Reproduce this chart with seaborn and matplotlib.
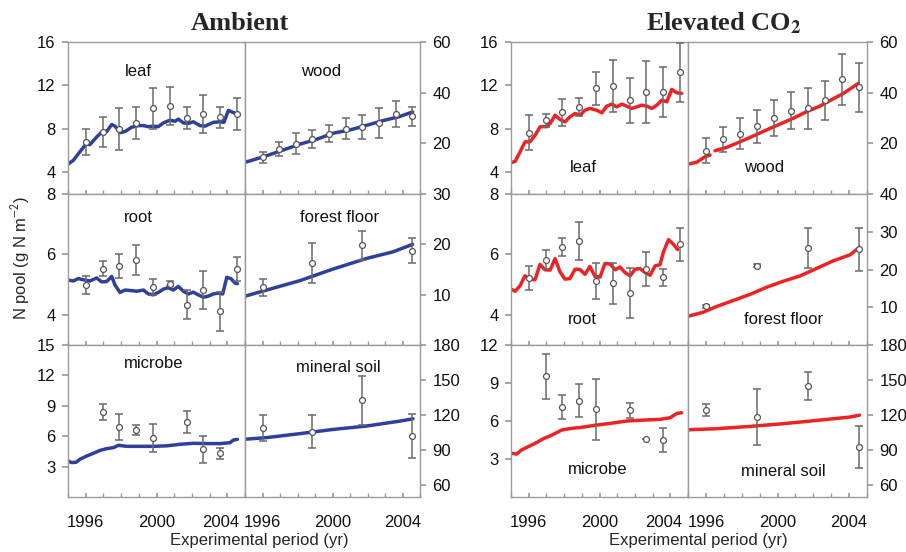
import matplotlib
matplotlib.use("Agg")
import matplotlib.pyplot as plt
import matplotlib.transforms as mtransforms
import numpy as np
import seaborn as sns

# observation dates (growing-season sampling), shared by all panels
obs_years = [1996.0, 1996.95, 1997.9, 1998.85, 1999.8, 2000.75, 2001.7, 2002.65, 2003.6, 2004.55]
idx_micro = [1, 2, 3, 4, 6, 7, 8]
idx_soil = [0, 3, 6, 9]

# ---------------- Ambient ----------------
amb_leaf_t = [1995.0, 1995.3, 1995.68, 1996.02, 1996.24, 1996.62, 1996.9, 1997.18, 1997.47, 1997.66,
              1997.94, 1998.22, 1998.6, 1998.97, 1999.26, 1999.54, 1999.82, 2000.1, 2000.39, 2000.76,
              2001.05, 2001.23, 2001.52, 2001.8, 2002.08, 2002.46, 2002.74, 2003.21, 2003.59, 2003.81,
              2004.06, 2004.28, 2004.6]
amb_leaf_v = [4.75, 5.1, 5.9, 6.6, 6.55, 7.25, 7.7, 7.75, 8.4, 8.25,
              7.65, 7.75, 8.15, 8.3, 8.3, 8.2, 8.25, 8.2, 8.55, 8.8,
              8.7, 8.9, 8.55, 8.5, 8.65, 8.3, 8.25, 8.6, 8.65, 8.6,
              9.7, 9.55, 9.3]
amb_leaf_obs = [6.8, 7.7, 8.0, 8.55, 9.9, 10.1, 9.0, 9.4, 9.05, 9.35]
amb_leaf_err = [1.2, 1.4, 1.95, 1.5, 1.9, 1.75, 1.05, 1.75, 1.0, 1.45]

amb_wood_t = [1995.0, 1996.06, 1997.2, 1998.15, 1999.1, 2000.04, 2001.0, 2001.95, 2002.9, 2003.8, 2004.58]
amb_wood_v = [12.5, 14.7, 17.4, 19.7, 21.6, 24.0, 25.3, 27.1, 29.0, 30.5, 32.4]
amb_wood_obs = [14.5, 17.8, 19.9, 21.6, 23.8, 25.8, 26.4, 28.1, 31.6, 30.7]
amb_wood_err = [2.2, 2.8, 4.0, 3.6, 3.3, 4.2, 4.8, 6.0, 5.2, 3.7]

amb_root_t = [1995.0, 1995.3, 1995.58, 1995.86, 1996.24, 1996.62, 1996.9, 1997.18, 1997.47, 1997.66,
              1997.94, 1998.22, 1998.6, 1998.88, 1999.26, 1999.54, 1999.82, 2000.1, 2000.39, 2000.67,
              2000.95, 2001.23, 2001.52, 2001.8, 2002.08, 2002.36, 2002.65, 2002.93, 2003.21, 2003.5,
              2003.74, 2003.97, 2004.2, 2004.44, 2004.57]
amb_root_v = [5.15, 5.12, 5.2, 5.16, 5.12, 5.22, 5.09, 5.1, 5.27, 4.98,
              4.74, 4.82, 4.8, 4.78, 4.82, 4.69, 4.66, 4.74, 4.85, 4.9,
              4.82, 4.94, 4.78, 4.69, 4.75, 4.66, 4.58, 4.62, 4.69, 4.72,
              4.69, 5.24, 5.2, 5.05, 5.03]
amb_root_obs = [5.0, 5.53, 5.62, 5.81, 4.93, 5.03, 4.33, 4.82, 4.12, 5.51]
amb_root_err = [0.3, 0.25, 0.4, 0.5, 0.27, 0.08, 0.48, 0.62, 0.65, 0.4]

amb_floor_t = [1995.0, 1998.15, 2000.04, 2001.95, 2003.45, 2004.58]
amb_floor_v = [9.7, 12.8, 15.1, 17.2, 18.5, 20.0]
amb_floor_obs = [11.5, 16.3, 19.8, 18.7]
amb_floor_err = [1.7, 3.9, 2.9, 2.5]

amb_micro_t = [1995.0, 1995.2, 1995.45, 1995.68, 1996.06, 1996.43, 1996.81, 1997.18, 1997.56, 1997.85,
               1998.32, 1999.07, 1999.82, 2000.58, 2001.33, 2002.08, 2002.84, 2003.59, 2004.16, 2004.34,
               2004.57]
amb_micro_v = [3.56, 3.4, 3.42, 3.73, 4.05, 4.31, 4.6, 4.77, 4.87, 5.1,
               5.0, 5.0, 5.0, 5.05, 5.2, 5.3, 5.27, 5.27, 5.36, 5.62,
               5.69]
amb_micro_obs = [8.4, 6.93, 6.6, 5.82, 7.42, 4.71, 4.31]
amb_micro_err = [0.82, 1.3, 0.5, 1.4, 1.1, 1.35, 0.55]

amb_soil_t = [1995.0, 1996.24, 1998.15, 2000.04, 2001.95, 2003.85, 2004.6]
amb_soil_v = [99.4, 100.8, 104.2, 107.8, 110.7, 114.9, 116.9]
amb_soil_obs = [109.3, 105.9, 132.7, 102.2]
amb_soil_err = [11.0, 14.3, 21.0, 19.0]

# ---------------- Elevated CO2 ----------------
ele_leaf_t = [1995.0, 1995.23, 1995.51, 1995.79, 1996.07, 1996.36, 1996.64, 1996.83, 1997.02, 1997.21,
              1997.49, 1997.77, 1998.05, 1998.33, 1998.62, 1998.9, 1999.18, 1999.46, 1999.84, 2000.13,
              2000.41, 2000.69, 2000.97, 2001.26, 2001.54, 2001.82, 2002.11, 2002.39, 2002.67, 2002.95,
              2003.24, 2003.52, 2003.8, 2004.08, 2004.37, 2004.64]
ele_leaf_v = [4.89, 5.0, 5.87, 6.8, 6.8, 7.41, 8.18, 8.2, 8.2, 8.49,
              9.26, 8.86, 8.64, 9.1, 9.42, 9.26, 9.72, 9.88, 9.72, 9.47,
              10.09, 10.28, 10.03, 10.28, 10.1, 9.88, 10.03, 10.18, 10.1, 9.88,
              10.18, 10.64, 10.49, 11.63, 11.32, 11.26]
ele_leaf_obs = [7.66, 8.77, 9.51, 10.0, 11.72, 11.94, 10.62, 11.38, 11.38, 13.2]
ele_leaf_err = [1.6, 0.64, 1.25, 0.8, 1.5, 2.4, 2.1, 2.85, 2.3, 2.75]

# gap in the simulated wood pool shortly after 1996
ele_wood_t = [1995.0, 1995.48, 1995.95, 1996.23, 1996.37, 1996.51, 1997.16, 1997.9, 1998.65, 1999.39,
              2000.14, 2000.88, 2001.63, 2002.37, 2003.12, 2003.68, 2004.52]
ele_wood_v = [11.8, 12.5, 14.7, 15.4, np.nan, 17.1, 18.4, 20.6, 22.9, 25.3,
              27.6, 29.9, 32.5, 34.7, 37.6, 39.7, 43.7]
ele_wood_obs = [17.1, 21.6, 23.8, 26.8, 30.0, 32.8, 33.8, 37.1, 45.3, 42.1]
ele_wood_err = [4.9, 5.0, 6.1, 6.5, 7.0, 7.3, 8.0, 7.7, 10.0, 9.7]

ele_root_t = [1995.0, 1995.23, 1995.51, 1995.79, 1996.07, 1996.36, 1996.64, 1996.92, 1997.21, 1997.49,
              1997.77, 1998.05, 1998.33, 1998.62, 1998.9, 1999.18, 1999.46, 1999.75, 2000.03, 2000.31,
              2000.6, 2000.88, 2001.16, 2001.44, 2001.73, 2002.01, 2002.29, 2002.57, 2002.86, 2003.14,
              2003.42, 2003.61, 2003.9, 2004.18, 2004.41]
ele_root_v = [4.85, 4.78, 4.96, 5.29, 5.18, 5.16, 5.67, 5.49, 5.48, 5.86,
              5.42, 5.18, 5.2, 5.51, 5.5, 5.34, 5.6, 5.27, 5.25, 5.7,
              5.68, 5.49, 5.58, 5.4, 5.29, 5.51, 5.53, 5.4, 5.31, 5.62,
              5.66, 6.08, 6.49, 6.33, 6.16]
ele_root_obs = [5.22, 5.83, 6.24, 6.43, 5.12, 5.04, 4.73, 5.53, 5.24, 6.33]
ele_root_err = [0.39, 0.3, 0.3, 0.63, 0.6, 0.67, 0.83, 0.56, 0.27, 0.56]

ele_floor_t = [1995.0, 1995.86, 1996.6, 1997.53, 1998.46, 1999.39, 2000.33, 2001.26, 2002.19, 2003.12, 2004.06, 2004.58]
ele_floor_v = [7.6, 8.7, 10.2, 11.8, 13.4, 15.3, 16.9, 18.3, 20.3, 22.3, 23.9, 25.9]
ele_floor_obs = [10.2, 21.05, 25.7, 25.3]
ele_floor_err = [0.4, 0.5, 5.4, 5.7]

ele_micro_t = [1995.0, 1995.32, 1995.6, 1996.07, 1996.45, 1996.83, 1997.21, 1997.58, 1997.87, 1998.34,
               1999.09, 1999.84, 2000.6, 2001.54, 2002.48, 2003.42, 2003.99, 2004.37, 2004.64]
ele_micro_v = [3.46, 3.39, 3.72, 4.04, 4.3, 4.61, 4.82, 5.08, 5.29, 5.4,
               5.52, 5.68, 5.81, 6.0, 6.07, 6.13, 6.26, 6.6, 6.65]
ele_micro_obs = [9.52, 7.12, 7.61, 6.91, 6.83, 4.61, 4.51]
ele_micro_err = [1.8, 0.97, 1.32, 2.43, 0.58, 0.0, 0.93]

ele_soil_t = [1995.0, 1996.6, 1998.46, 2000.33, 2002.19, 2004.06, 2004.58]
ele_soil_v = [107.5, 108.4, 110.4, 112.7, 115.5, 118.4, 120.0]
ele_soil_obs = [124.6, 118.4, 145.0, 92.4]
ele_soil_err = [5.0, 23.7, 12.0, 18.0]

BLUE = "#2f3f9e"
RED = "#ee2222"
SPINE = "#9a9a9a"

sns.set_theme(style="white")
plt.rcParams["font.family"] = ["Liberation Sans", "DejaVu Sans"]
plt.rcParams["mathtext.fontset"] = "stix"

W, H = 906, 552
fig = plt.figure(figsize=(W / 100, H / 100), dpi=100)


def box(x0, x1, y0, y1):
    return [x0 / W, 1 - y1 / H, (x1 - x0) / W, (y1 - y0) / H]


def draw_panel(ax, lt, lv, ot, ov, oe, color):
    lt = np.asarray(lt)
    lv = np.asarray(lv, dtype=float)
    # split the model line wherever it has missing values
    breaks = np.where(np.isnan(lv))[0]
    for seg in np.split(np.arange(len(lv)), breaks):
        seg = seg[~np.isnan(lv[seg])]
        if len(seg) > 1:
            sns.lineplot(x=lt[seg], y=lv[seg], ax=ax, color=color, lw=2.5, legend=False, zorder=2)
    ax.errorbar(ot, ov, yerr=oe, fmt="none", ecolor="#6a6a6a", elinewidth=1.1,
                capsize=2.6, capthick=1.1, zorder=3)
    sns.scatterplot(x=ot, y=ov, ax=ax, marker="o", s=18, facecolor="white",
                    edgecolor="#555555", linewidth=0.9, zorder=4, legend=False)


def style_axes(ax, side, ylim, yticks, bottom):
    ax.set_xlim(1995, 2005)
    ax.set_ylim(*ylim)
    for s in ax.spines.values():
        s.set_color(SPINE)
        s.set_linewidth(1.0)
    ax.set_xticks([1996, 2000, 2004])
    ax.set_xticks(range(1995, 2006), minor=True)
    ax.tick_params(axis="x", which="both", direction="in", length=3, color=SPINE,
                   bottom=True, top=False, labelbottom=bottom, labelsize=12, pad=13,
                   labelcolor="#111111")
    if side == "left":
        ax.yaxis.set_ticks_position("left")
        if bottom:
            # nudge the last year left so it does not run into the next panel's 1996
            lab = ax.get_xticklabels()[-1]
            lab.set_transform(lab.get_transform() +
                              mtransforms.ScaledTranslation(-0.07, 0, fig.dpi_scale_trans))
    else:
        ax.yaxis.tick_right()
    ax.set_yticks(yticks)
    ax.tick_params(axis="y", direction="out", length=4, color=SPINE, labelsize=12,
                   pad=5, labelcolor="#111111")
    ax.set_xlabel("")
    ax.set_ylabel("")


rows = [(42, 194), (194, 345), (345, 497)]

groups = [
    dict(cols=(68, 245, 420), color=BLUE,
         left=[(amb_leaf_t, amb_leaf_v, amb_leaf_obs, amb_leaf_err, (2, 16), [4, 8, 12, 16], None),
               (amb_root_t, amb_root_v, amb_root_obs, amb_root_err, (3, 8), [4, 6, 8], None),
               (amb_micro_t, amb_micro_v, amb_micro_obs, amb_micro_err, (0, 15), [3, 6, 9, 12, 15], idx_micro)],
         right=[(amb_wood_t, amb_wood_v, amb_wood_obs, amb_wood_err, (0, 60), [20, 40, 60], None),
                (amb_floor_t, amb_floor_v, amb_floor_obs, amb_floor_err, (0, 30), [10, 20, 30], idx_soil),
                (amb_soil_t, amb_soil_v, amb_soil_obs, amb_soil_err, (50, 180), [60, 90, 120, 150, 180], idx_soil)]),
    dict(cols=(511, 688, 867), color=RED,
         left=[(ele_leaf_t, ele_leaf_v, ele_leaf_obs, ele_leaf_err, (2, 16), [4, 8, 12, 16], None),
               (ele_root_t, ele_root_v, ele_root_obs, ele_root_err, (3, 8), [4, 6, 8], None),
               (ele_micro_t, ele_micro_v, ele_micro_obs, ele_micro_err, (0, 12), [3, 6, 9, 12], idx_micro)],
         right=[(ele_wood_t, ele_wood_v, ele_wood_obs, ele_wood_err, (0, 60), [20, 40, 60], None),
                (ele_floor_t, ele_floor_v, ele_floor_obs, ele_floor_err, (0, 40), [10, 20, 30, 40], idx_soil),
                (ele_soil_t, ele_soil_v, ele_soil_obs, ele_soil_err, (50, 180), [60, 90, 120, 150, 180], idx_soil)]),
]

for g in groups:
    x0, xm, x1 = g["cols"]
    for r, (y0, y1) in enumerate(rows):
        bottom = r == 2
        for side, (a, b) in (("left", (x0, xm)), ("right", (xm, x1))):
            lt, lv, ov, oe, ylim, yt, idx = g[side][r]
            ot = obs_years if idx is None else [obs_years[i] for i in idx]
            ax = fig.add_axes(box(a, b, y0, y1))
            draw_panel(ax, lt, lv, ot, ov, oe, g["color"])
            style_axes(ax, side, ylim, yt, bottom)

# panel names
labels = [("leaf", 138, 71), ("wood", 321, 71), ("root", 138, 218), ("forest floor", 340, 218),
          ("microbe", 154, 364), ("mineral soil", 338, 367),
          ("leaf", 583, 167), ("wood", 764, 167), ("root", 582, 320), ("forest floor", 784, 320),
          ("microbe", 598, 469), ("mineral soil", 783, 471)]
for txt, px, py in labels:
    fig.text(px / W, 1 - py / H, txt, ha="center", va="center", fontsize=12, color="#111111")

fig.text(240 / W, 1 - 23 / H, "Ambient", ha="center", va="center", fontsize=19,
         fontweight="bold", family="Liberation Serif")
fig.text(724 / W, 1 - 23 / H, r"Elevated CO$_\mathbf{2}$", ha="center", va="center", fontsize=19,
         fontweight="bold", family="Liberation Serif")
fig.text(259 / W, 1 - 541 / H, "Experimental period (yr)", ha="center", va="center", fontsize=12)
fig.text(698 / W, 1 - 541 / H, "Experimental period (yr)", ha="center", va="center", fontsize=12)
fig.text(21 / W, 1 - 258 / H, r"N pool (g N m$^{\mathsf{-2}}$)", ha="center", va="center",
         rotation=90, fontsize=12)

fig.savefig("out.png", dpi=100, facecolor="white")
